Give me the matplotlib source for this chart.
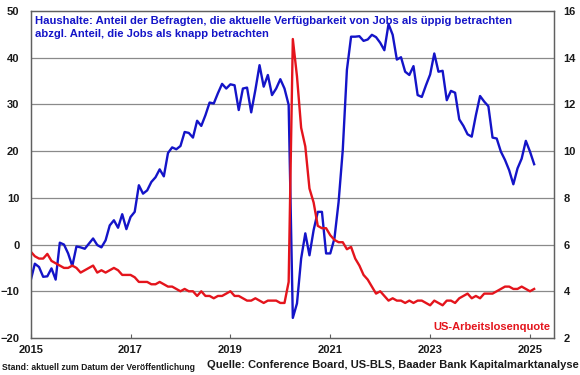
import matplotlib
matplotlib.use("Agg")
import matplotlib.pyplot as plt
import numpy as np
import pandas as pd

plt.rcParams["font.family"] = ["Liberation Sans", "DejaVu Sans"]

# ---- data (monthly, Jan 2015 .. Feb 2025) ----
start_month = "2015-01-01"

labor_diff = [
    # 2015
    -7.7, -4.1, -4.8, -6.9, -6.8, -5.1, -7.5, 0.4, 0.0, -1.9, -4.6, -0.4,
    # 2016
    -0.6, -0.9, 0.2, 1.3, -0.1, -0.6, 0.9, 4.1, 5.2, 3.6, 6.5, 3.3,
    # 2017
    5.9, 7.0, 12.7, 10.9, 11.6, 13.4, 14.4, 16.1, 14.6, 19.6, 20.8, 20.4,
    # 2018
    21.1, 24.1, 23.9, 22.9, 26.5, 25.4, 27.7, 30.4, 30.2, 32.4, 34.4, 33.4,
    # 2019
    34.3, 34.1, 28.8, 33.4, 33.6, 28.3, 33.1, 38.4, 33.8, 36.3, 32.0, 33.4,
    # 2020
    35.4, 33.4, 29.9, -15.7, -12.6, -3.0, 2.4, -2.3, 3.1, 7.0, 7.0, -1.9,
    # 2021
    -1.9, 1.3, 9.1, 20.2, 37.4, 44.5, 44.5, 44.6, 43.6, 43.9, 44.9, 44.4,
    # 2022
    43.2, 41.6, 47.2, 44.9, 39.6, 40.1, 37.0, 36.3, 38.2, 32.0, 31.6, 34.1,
    # 2023
    36.4, 40.9, 37.0, 37.2, 30.9, 32.9, 32.5, 26.8, 25.4, 23.6, 23.1, 27.7,
    # 2024
    31.8, 30.6, 29.6, 22.9, 22.7, 19.9, 18.1, 15.9, 12.9, 16.3, 18.4, 22.2,
    # 2025
    19.9, 17.2,
]

unemployment = [
    # 2015
    5.7, 5.5, 5.4, 5.4, 5.6, 5.3, 5.2, 5.1, 5.0, 5.0, 5.1, 5.0,
    # 2016
    4.8, 4.9, 5.0, 5.1, 4.8, 4.9, 4.8, 4.9, 5.0, 4.9, 4.7, 4.7,
    # 2017
    4.7, 4.6, 4.4, 4.4, 4.4, 4.3, 4.3, 4.4, 4.3, 4.2, 4.2, 4.1,
    # 2018
    4.0, 4.1, 4.0, 4.0, 3.8, 4.0, 3.8, 3.8, 3.7, 3.8, 3.8, 3.9,
    # 2019
    4.0, 3.8, 3.8, 3.7, 3.6, 3.6, 3.7, 3.6, 3.5, 3.6, 3.6, 3.6,
    # 2020
    3.5, 3.5, 4.4, 14.8, 13.2, 11.0, 10.2, 8.4, 7.8, 6.8, 6.7, 6.7,
    # 2021
    6.4, 6.2, 6.1, 6.1, 5.8, 5.9, 5.4, 5.1, 4.7, 4.5, 4.2, 3.9,
    # 2022
    4.0, 3.8, 3.6, 3.7, 3.6, 3.6, 3.5, 3.6, 3.5, 3.6, 3.6, 3.5,
    # 2023
    3.4, 3.6, 3.5, 3.4, 3.6, 3.6, 3.5, 3.7, 3.8, 3.9, 3.7, 3.8,
    # 2024
    3.7, 3.9, 3.9, 3.9, 4.0, 4.1, 4.2, 4.2, 4.1, 4.1, 4.2, 4.1,
    # 2025
    4.0, 4.1,
]

year_ticks = [2015, 2017, 2019, 2021, 2023, 2025]
left_ticks = [-20, -10, 0, 10, 20, 30, 40, 50]
right_ticks = [2, 4, 6, 8, 10, 12, 14, 16]

title_text = ("Haushalte: Anteil der Befragten, die aktuelle Verfügbarkeit von Jobs als üppig betrachten\n"
              "abzgl. Anteil, die Jobs als knapp betrachten")
red_label = "US-Arbeitslosenquote"
stand_text = "Stand: aktuell zum Datum der Veröffentlichung"
source_text = "Quelle: Conference Board, US-BLS, Baader Bank Kapitalmarktanalyse"

# ---- derived x positions (fractional years) ----
months = pd.date_range(start_month, periods=len(labor_diff), freq="MS")
xpos = months.year + (months.month - 1) / 12.0

BLUE = "#1414C8"
RED = "#E4141C"
TXT = "#1a1a1a"
GRID = "#8a8a8a"

fig = plt.figure(figsize=(5.8, 3.75), dpi=100)
ax = fig.add_axes([0.0529, 0.0987, 0.9022, 0.872])
ax2 = ax.twinx()

ax.plot(xpos, labor_diff, color=BLUE, lw=1.7, solid_joinstyle="round")
ax2.plot(xpos, unemployment, color=RED, lw=1.7, solid_joinstyle="round")

ax.set_xlim(2015.0, 2025.48)
ax.set_ylim(-20, 50)
ax2.set_ylim(2, 16)

ax.set_yticks(left_ticks)
ax2.set_yticks(right_ticks)
ax.set_xticks(year_ticks)
ax.set_xticklabels([str(y) for y in year_ticks])

for y in left_ticks[1:-1]:
    ax.axhline(y, color=GRID, lw=0.9, zorder=0)

for sp in list(ax.spines.values()) + list(ax2.spines.values()):
    sp.set_color("#606060")
    sp.set_linewidth(0.9)

ax.tick_params(axis="y", length=0, pad=8, labelsize=8, labelcolor=TXT)
ax2.tick_params(axis="y", length=0, pad=7, labelsize=8, labelcolor=TXT)
ax.tick_params(axis="x", direction="in", length=3, color="#606060", pad=5, labelsize=8, labelcolor=TXT)
for lbl in ax.get_xticklabels() + ax.get_yticklabels() + ax2.get_yticklabels():
    lbl.set_fontweight("bold")

ax.text(0.009, 0.985, title_text, transform=ax.transAxes, ha="left", va="top",
        color=BLUE, fontsize=8.1, fontweight="bold", linespacing=1.35)
ax.text(0.993, 0.035, red_label, transform=ax.transAxes, ha="right", va="center",
        color=RED, fontsize=8, fontweight="bold")

fig.text(0.004, 0.021, stand_text, ha="left", va="center", fontsize=6.2,
         fontweight="bold", color=TXT)
fig.text(0.997, 0.026, source_text, ha="right", va="center", fontsize=8.0,
         fontweight="bold", color=TXT)

fig.savefig("out.png", dpi=100)
